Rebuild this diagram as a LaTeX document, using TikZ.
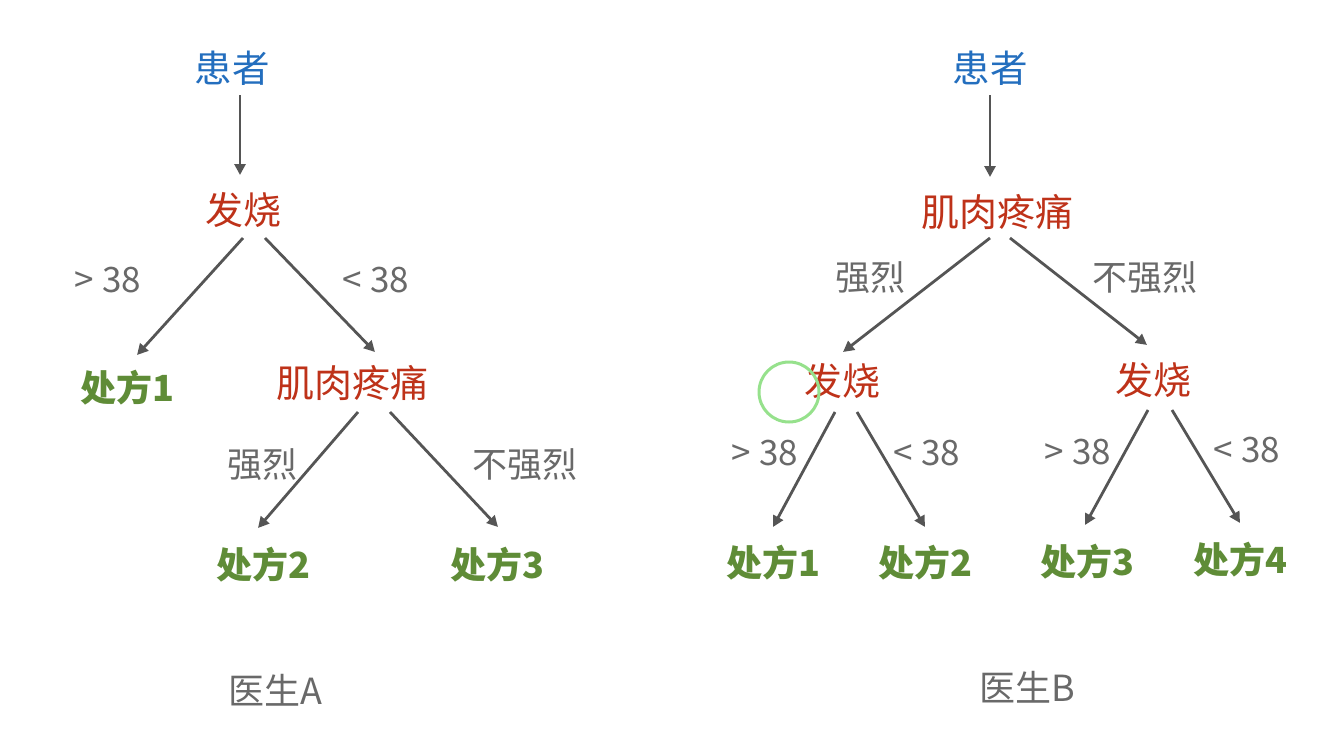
\documentclass[tikz,border=0pt]{standalone}
\usepackage{fontspec}
\setmainfont{Noto Sans CJK SC}
\usetikzlibrary{arrows.meta,calc}
\definecolor{cblue}{RGB}{35,110,190}
\definecolor{cred}{RGB}{190,50,25}
\definecolor{cgreen}{RGB}{95,140,55}
\definecolor{cgray}{RGB}{105,105,105}
\definecolor{carrow}{RGB}{85,85,85}
\definecolor{ccirc}{RGB}{150,225,140}
\begin{document}
\begin{tikzpicture}[x=1pt,y=-1pt,
  root/.style={text=cblue,font=\fontsize{37.5}{42}\selectfont,inner sep=0pt},
  attr/.style={text=cred,font=\fontsize{38}{42}\selectfont,inner sep=0pt},
  leaf/.style={text=cgreen,font=\fontsize{36}{40}\selectfont\bfseries,inner sep=0pt},
  lbl/.style={text=cgray,font=\fontsize{35}{38}\selectfont,inner sep=0pt},
  doccap/.style={text=cgray,font=\fontsize{36}{40}\selectfont,inner sep=0pt},
  arr/.style={draw=carrow,line width=2.8pt,-{Triangle[length=11pt,width=11pt]}}]
\useasboundingbox (0,0) rectangle (1340,728);
% ---------- Doctor A ----------
\node[root] (pA) at (232,68) {患者};
\node[attr] (fA) at (243,210) {发烧};
\node[leaf] (a1) at (127,388) {处方1};
\node[attr] (mA) at (352,383) {肌肉疼痛};
\node[leaf] (a2) at (263,565) {处方2};
\node[leaf] (a3) at (497,565) {处方3};
\node[lbl] (lA1) at (108,280) {> 38};
\node[lbl] (lA2) at (376,280) {< 38};
\node[lbl] (lA3) at (262,465) {强烈};
\node[lbl] (lA4) at (525,465) {不强烈};
\node[doccap] (cA) at (275,690) {医生A};
\draw[arr] ($(pA)+(8,27)$) -- ($(fA)+(-3,-35)$);
\draw[arr] ($(fA)+(0,28)$) -- ($(a1)+(10,-33)$);
\draw[arr] ($(fA)+(22,28)$) -- ($(mA)+(23,-31)$);
\draw[arr] ($(mA)+(6,29)$) -- ($(a2)+(-5,-37)$);
\draw[arr] ($(mA)+(38,29)$) -- ($(a3)+(1,-38)$);
% ---------- Doctor B ----------
\node[root] (pB) at (990,68) {患者};
\node[attr] (mB) at (997,212) {肌肉疼痛};
\node[attr] (fB1) at (842,381) {发烧};
\node[attr] (fB2) at (1153,380) {发烧};
\node[leaf] (b1) at (773,563) {处方1};
\node[leaf] (b2) at (925,563) {处方2};
\node[leaf] (b3) at (1087,562) {处方3};
\node[leaf] (b4) at (1240,560) {处方4};
\node[lbl] (lB1) at (870,278) {强烈};
\node[lbl] (lB2) at (1145,278) {不强烈};
\node[lbl] (lB3) at (765,453) {> 38};
\node[lbl] (lB4) at (927,453) {< 38};
\node[lbl] (lB5) at (1078,452) {> 38};
\node[lbl] (lB6) at (1247,450) {< 38};
\node[doccap] (cB) at (1027,687) {医生B};
\draw[arr] ($(pB)+(0,27)$) -- ($(mB)+(-7,-35)$);
\draw[arr] ($(mB)+(-7,26)$) -- ($(fB1)+(1,-29)$);
\draw[arr] ($(mB)+(13,26)$) -- ($(fB2)+(-6,-35)$);
\draw[arr] ($(fB1)+(-7,31)$) -- ($(b1)+(0,-36)$);
\draw[arr] ($(fB1)+(15,31)$) -- ($(b2)+(0,-36)$);
\draw[arr] ($(fB2)+(-5,30)$) -- ($(b3)+(-2,-37)$);
\draw[arr] ($(fB2)+(19,30)$) -- ($(b4)+(0,-37)$);
% cursor highlight
\draw[ccirc,line width=3pt] (789,392) circle[radius=30];
\end{tikzpicture}
\end{document}
